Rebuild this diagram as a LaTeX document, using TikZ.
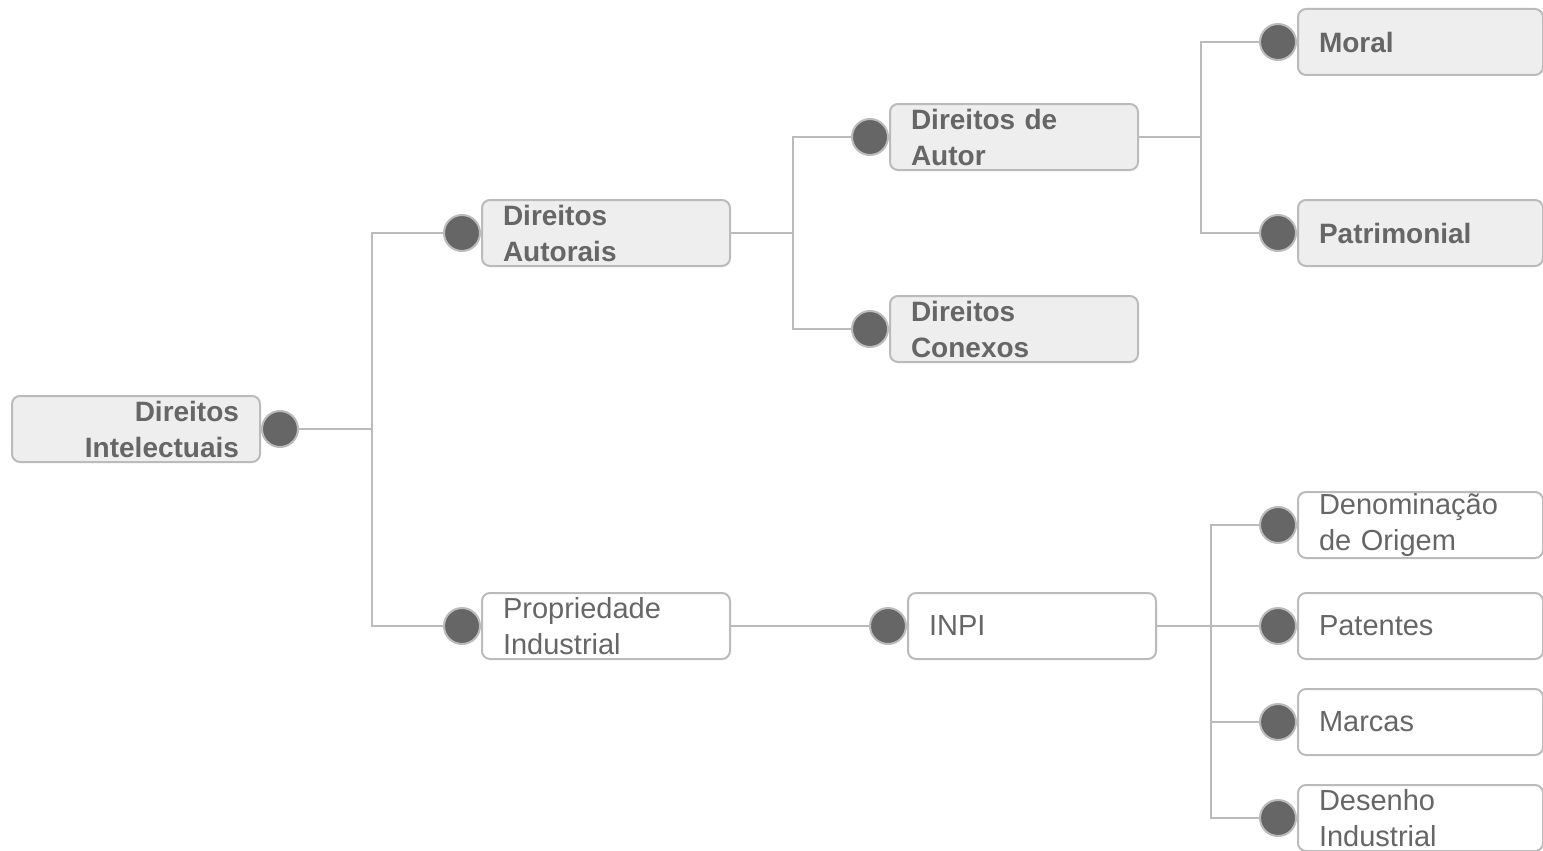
\documentclass[tikz,border=0pt]{standalone}
\usepackage{fontspec}
\setmainfont{Liberation Sans}
\usetikzlibrary{backgrounds,positioning}
\definecolor{txt}{HTML}{666666}
\definecolor{edge}{HTML}{BBBBBB}
\definecolor{boxfill}{HTML}{EEEEEE}
\begin{document}
\begin{tikzpicture}[x=1pt,y=-1pt,
 base/.style={draw=edge, line width=2pt, rounded corners=8pt, minimum width=248pt, minimum height=66pt, text width=206pt, inner xsep=21pt, inner ysep=0pt, text=txt, anchor=north west, align=left},
 greybox/.style={base, fill=boxfill, font=\fontsize{28}{36}\selectfont\bfseries},
 whitebox/.style={base, fill=white, font=\fontsize{29}{36}\selectfont},
 lastcol/.style={minimum width=245pt, text width=203pt},
 dot/.style={circle, fill=txt, draw=edge, line width=2pt, minimum size=36pt, inner sep=0pt},
 link/.style={draw=edge, line width=1.8pt}]
\useasboundingbox (0,0) rectangle (1543,851);
% boxes
\node[greybox, align=right] (root) at (11,395) {Direitos\\Intelectuais};
\node[greybox] (da) at (481,199) {Direitos\\Autorais};
\node[greybox] (dda) at (889,103) {Direitos de\\Autor};
\node[greybox] (dc) at (889,295) {Direitos\\Conexos};
\node[greybox, lastcol] (mo) at (1297,8) {Moral};
\node[greybox, lastcol] (pa) at (1297,199) {Patrimonial};
\node[whitebox] (pi) at (481,592) {Propriedade\\Industrial};
\node[whitebox] (inpi) at (907,592) {INPI};
\node[whitebox, lastcol] (den) at (1297,491) {Denominação\\de Origem};
\node[whitebox, lastcol] (pt) at (1297,592) {Patentes};
\node[whitebox, lastcol] (ma) at (1297,688) {Marcas};
\node[whitebox, lastcol] (de) at (1297,784) {Desenho\\Industrial};
% dots
\node[dot, right=0pt of root] (rootd) {};
\node[dot, left=0pt of da] (dad) {};
\node[dot, left=0pt of dda] (ddad) {};
\node[dot, left=0pt of dc] (dcd) {};
\node[dot, left=0pt of mo] (mod) {};
\node[dot, left=0pt of pa] (pad) {};
\node[dot, left=0pt of pi] (pid) {};
\node[dot, left=0pt of inpi] (inpid) {};
\node[dot, left=0pt of den] (dend) {};
\node[dot, left=0pt of pt] (ptd) {};
\node[dot, left=0pt of ma] (mad) {};
\node[dot, left=0pt of de] (ded) {};
% junctions
\path (rootd.center) ++(92,0) coordinate (j1);
\path (da.east) ++(62,0) coordinate (j2);
\path (dda.east) ++(62,0) coordinate (j3);
\path (inpi.east) ++(54,0) coordinate (j4);
\begin{pgfonlayer}{background}
\fill[white] (0,0) rectangle (1543,851);
\draw[link] (rootd.center) -- (j1) |- (dad.center);
\draw[link] (j1) |- (pid.center);
\draw[link] (da.east) -- (j2) |- (ddad.center);
\draw[link] (j2) |- (dcd.center);
\draw[link] (dda.east) -- (j3) |- (mod.center);
\draw[link] (j3) |- (pad.center);
\draw[link] (pi.east) -- (inpid.center);
\draw[link] (inpi.east) -- (j4) |- (dend.center);
\draw[link] (j4) |- (ptd.center);
\draw[link] (j4) |- (mad.center);
\draw[link] (j4) |- (ded.center);
\end{pgfonlayer}
\end{tikzpicture}
\end{document}
